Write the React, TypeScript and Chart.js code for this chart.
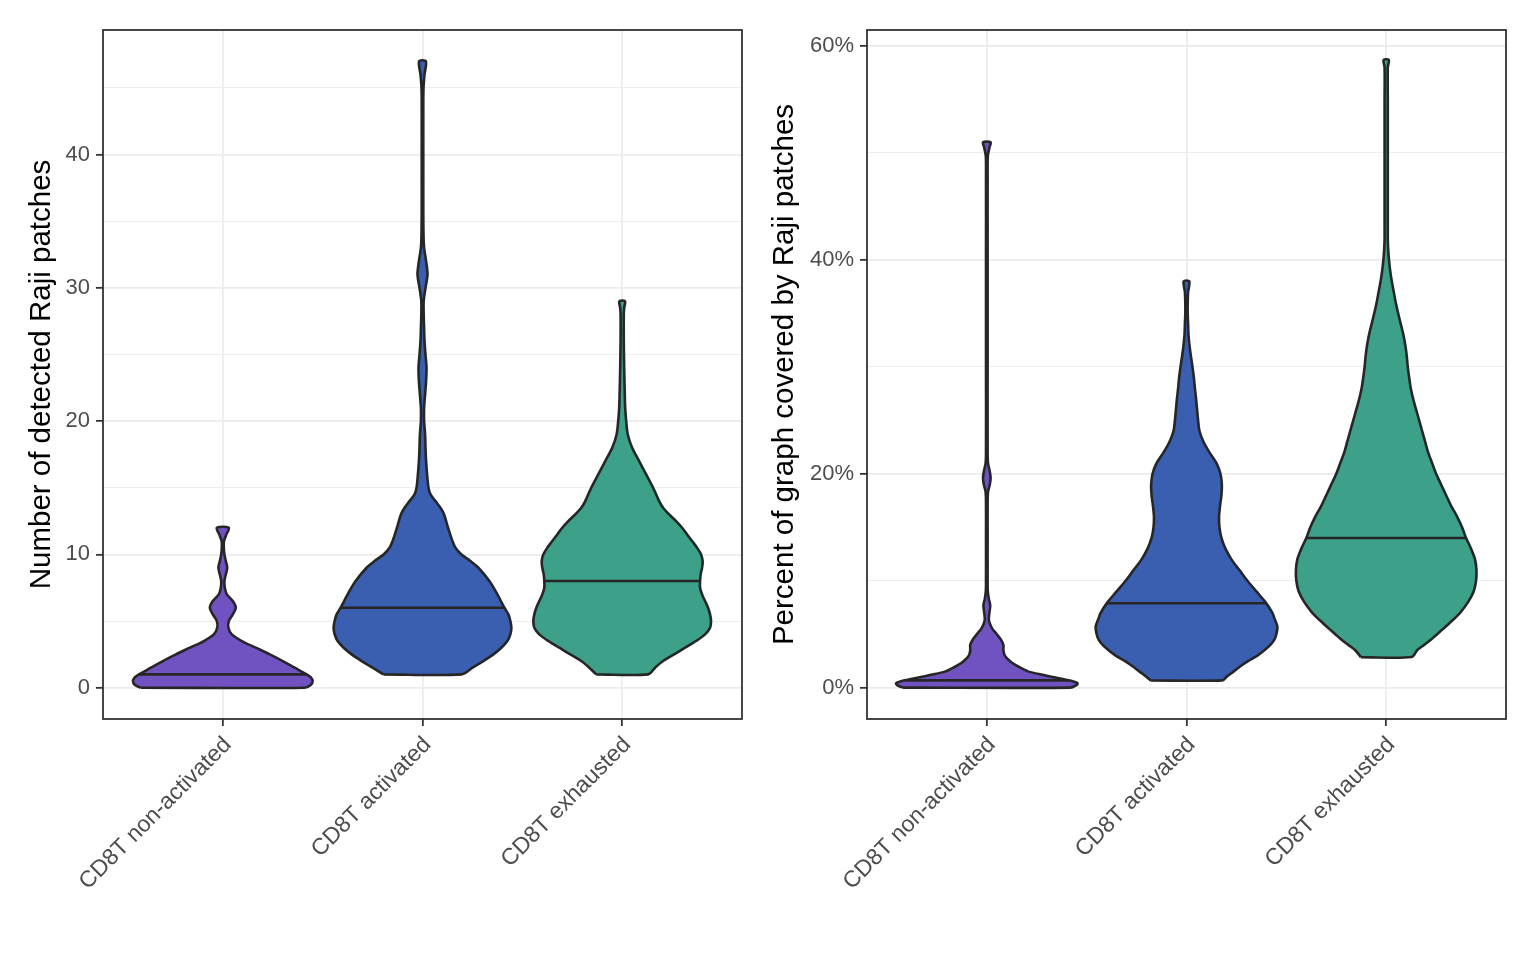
import { useEffect, useRef } from "react"
import { Chart, registerables } from "chart.js"

Chart.register(...registerables)

const CATEGORIES = ["CD8T non-activated", "CD8T activated", "CD8T exhausted"]

// Left panel: number of detected Raji patches (value, violin half width in category units)
const PATCH_NONACT_Y = [0, 0.2, 0.5, 0.8, 1, 1.5, 2, 2.5, 3, 3.5, 4, 4.5, 5, 5.5, 6, 6.5, 7, 7.5, 8, 8.5, 9, 9.5, 10, 10.5, 11, 11.5, 12]
const PATCH_NONACT_W = [0.41, 0.44, 0.45, 0.44, 0.42, 0.36, 0.3, 0.235, 0.165, 0.095, 0.045, 0.028, 0.03, 0.05, 0.065, 0.05, 0.02, 0.01, 0.008, 0.015, 0.022, 0.015, 0.008, 0.005, 0.006, 0.018, 0.03]

const PATCH_ACT_Y = [1, 1.5, 2, 2.5, 3, 3.5, 4, 4.5, 5, 5.5, 6, 7, 8, 9, 9.5, 10, 10.5, 11, 12, 13, 13.5, 14, 14.5, 15, 16, 17, 18, 19, 20, 21, 22, 23, 24, 25, 26, 27, 28, 29, 30, 31, 32, 33, 34, 36, 40, 44, 45, 46, 47]
const PATCH_ACT_W = [0.195, 0.25, 0.305, 0.355, 0.395, 0.425, 0.44, 0.445, 0.44, 0.43, 0.41, 0.375, 0.335, 0.28, 0.24, 0.195, 0.165, 0.15, 0.128, 0.108, 0.09, 0.065, 0.04, 0.03, 0.023, 0.018, 0.015, 0.013, 0.008, 0.008, 0.013, 0.018, 0.02, 0.015, 0.01, 0.008, 0.006, 0.006, 0.015, 0.025, 0.018, 0.008, 0.005, 0.004, 0.004, 0.004, 0.005, 0.01, 0.017]

const PATCH_EXH_Y = [1, 1.5, 2, 2.5, 3, 3.5, 4, 4.5, 5, 5.5, 6, 6.5, 7, 7.5, 8, 8.5, 9, 9.5, 10, 10.5, 11, 11.5, 12, 12.5, 13, 13.5, 14, 15, 16, 17, 18, 19, 20, 21, 22, 24, 26, 28, 28.5, 29]
const PATCH_EXH_W = [0.13, 0.165, 0.205, 0.26, 0.315, 0.37, 0.415, 0.44, 0.445, 0.44, 0.43, 0.415, 0.4, 0.39, 0.39, 0.393, 0.4, 0.403, 0.395, 0.375, 0.35, 0.325, 0.3, 0.27, 0.235, 0.205, 0.185, 0.155, 0.12, 0.085, 0.05, 0.028, 0.02, 0.015, 0.013, 0.01, 0.008, 0.008, 0.01, 0.014]

const PATCH_MEDIANS = [1, 6, 8]
const PATCH_TICKS = [0, 10, 20, 30, 40]

// Right panel: percent of graph covered by Raji patches
const COVER_NONACT_Y = [0, 0.2, 0.4, 0.6, 0.8, 1, 1.2, 1.5, 1.8, 2.1, 2.5, 3, 3.5, 4, 4.5, 5, 5.5, 6, 6.4, 7, 7.7, 8.3, 9, 10, 14, 17, 18.3, 19, 19.6, 20.2, 21, 22, 30, 40, 48, 49.7, 50.5, 51]
const COVER_NONACT_W = [0.42, 0.445, 0.455, 0.43, 0.38, 0.33, 0.28, 0.21, 0.175, 0.145, 0.115, 0.09, 0.083, 0.083, 0.07, 0.05, 0.028, 0.015, 0.01, 0.013, 0.017, 0.01, 0.005, 0.004, 0.004, 0.004, 0.006, 0.015, 0.019, 0.015, 0.006, 0.004, 0.004, 0.004, 0.004, 0.005, 0.013, 0.019]

const COVER_ACT_Y = [0.68, 1, 1.5, 2, 2.5, 3, 3.5, 4, 4.5, 5, 5.7, 6.5, 7, 8, 9, 10, 11, 12, 13, 14, 15, 16, 17, 18, 19, 20, 21, 22, 23, 24, 25, 26, 27, 28, 29, 30, 31, 32, 33, 34, 35, 36, 37, 38]
const COVER_ACT_W = [0.18, 0.2, 0.235, 0.27, 0.31, 0.355, 0.39, 0.42, 0.44, 0.45, 0.455, 0.44, 0.43, 0.395, 0.35, 0.305, 0.265, 0.225, 0.195, 0.175, 0.165, 0.163, 0.168, 0.175, 0.177, 0.17, 0.15, 0.115, 0.085, 0.065, 0.058, 0.053, 0.048, 0.042, 0.037, 0.03, 0.022, 0.015, 0.01, 0.008, 0.006, 0.006, 0.008, 0.014]

const COVER_EXH_Y = [2.86, 3.5, 4, 4.5, 5, 5.5, 6, 7, 8, 9, 10, 11, 12, 13, 14, 15, 16, 17, 18, 19, 20, 21, 22, 23, 24, 25, 26, 27, 28, 29, 30, 31, 32, 33, 34, 35, 36, 37, 38, 39, 40, 41, 42, 43, 46, 50, 55, 58, 58.7]
const COVER_EXH_W = [0.127, 0.155, 0.19, 0.225, 0.255, 0.285, 0.315, 0.37, 0.41, 0.438, 0.45, 0.452, 0.445, 0.425, 0.4, 0.38, 0.355, 0.325, 0.3, 0.275, 0.25, 0.23, 0.21, 0.195, 0.18, 0.165, 0.15, 0.135, 0.123, 0.115, 0.108, 0.103, 0.096, 0.086, 0.073, 0.06, 0.048, 0.038, 0.028, 0.02, 0.014, 0.01, 0.008, 0.008, 0.008, 0.008, 0.008, 0.008, 0.013]

const COVER_MEDIANS = [0.68, 7.9, 14]
const COVER_TICKS = [0, 20, 40, 60]

const FILLS = ["#7152C1", "#3A5EB0", "#3DA18A"]
const OUTLINE = "#262626"
const FONT = "'Liberation Sans', Arial, Helvetica, sans-serif"

type Pt = { x: number; y: number }

function outline(center: number, ys: number[], ws: number[]): Pt[] {
  const left = ys.map((y, i) => ({ x: center - ws[i], y }))
  const right = ys.map((y, i) => ({ x: center + ws[i], y })).reverse()
  return [...left, ...right, left[0]]
}

function widthAt(ys: number[], ws: number[], v: number) {
  for (let i = 1; i < ys.length; i++) {
    if (v <= ys[i]) {
      const t = (v - ys[i - 1]) / (ys[i] - ys[i - 1])
      return ws[i - 1] + t * (ws[i] - ws[i - 1])
    }
  }
  return ws[ws.length - 1]
}

const panelBorder = {
  id: "panelBorder",
  afterDraw(chart: Chart) {
    const { ctx, chartArea: a } = chart
    ctx.save()
    ctx.strokeStyle = "#333333"
    ctx.lineWidth = 1.8
    ctx.strokeRect(a.left, a.top, a.right - a.left, a.bottom - a.top)
    ctx.restore()
  },
}

interface ViolinPanelProps {
  violins: { ys: number[]; ws: number[] }[]
  medians: number[]
  majors: number[]
  yMin: number
  yMax: number
  title: string
  suffix: string
  axisWidth: number
  padRight: number
  titlePad: number
}

function ViolinPanel({ violins, medians, majors, yMin, yMax, title, suffix, axisWidth, padRight, titlePad }: ViolinPanelProps) {
  const chartRef = useRef<HTMLCanvasElement>(null)
  const chartInstance = useRef<Chart | null>(null)

  useEffect(() => {
    if (!chartRef.current) return
    if (chartInstance.current) chartInstance.current.destroy()

    const datasets: any[] = []
    violins.forEach((v, i) => {
      const c = i + 1
      const w = widthAt(v.ys, v.ws, medians[i])
      datasets.push({
        data: outline(c, v.ys, v.ws),
        showLine: true,
        fill: "shape",
        backgroundColor: FILLS[i],
        borderColor: OUTLINE,
        borderWidth: 2.6,
        pointRadius: 0,
        tension: 0.3,
        order: 2,
      })
      // median line, drawn above the violin body
      datasets.push({
        data: [
          { x: c - w, y: medians[i] },
          { x: c + w, y: medians[i] },
        ],
        showLine: true,
        fill: false,
        borderColor: OUTLINE,
        borderWidth: 2.6,
        pointRadius: 0,
        order: 1,
      })
    })

    const step = majors[1] - majors[0]
    const allTicks: number[] = []
    for (let v = majors[0]; v <= yMax; v += step / 2) allTicks.push(v)
    const isMajor = (v: number) => majors.includes(v)

    chartInstance.current = new Chart(chartRef.current, {
      type: "scatter",
      data: { datasets },
      plugins: [panelBorder],
      options: {
        animation: false,
        responsive: true,
        maintainAspectRatio: false,
        layout: { padding: { top: 30, right: padRight, bottom: 0, left: 0 } },
        plugins: { legend: { display: false }, tooltip: { enabled: false } },
        scales: {
          x: {
            type: "linear",
            min: 0.4,
            max: 3.6,
            afterBuildTicks: (s: any) => {
              s.ticks = CATEGORIES.map((_, i) => ({ value: i + 1 }))
            },
            afterFit: (s: any) => {
              s.height = 241
            },
            ticks: {
              autoSkip: false,
              minRotation: 45,
              maxRotation: 45,
              padding: 3,
              labelOffset: 5,
              color: "#4D4D4D",
              font: { family: FONT, size: 23, lineHeight: 1.5 },
              callback: (v: any) => CATEGORIES[Number(v) - 1],
            },
            grid: { color: "#EBEBEB", lineWidth: 1.7, tickLength: 7, tickColor: "#333333", tickWidth: 1.8 },
            border: { display: false },
          },
          y: {
            type: "linear",
            min: yMin,
            max: yMax,
            afterBuildTicks: (s: any) => {
              s.ticks = allTicks.map((v) => ({ value: v }))
            },
            afterFit: (s: any) => {
              s.width = axisWidth
            },
            ticks: {
              padding: 6,
              color: "#4D4D4D",
              font: { family: FONT, size: 22 },
              callback: (v: any) => (isMajor(Number(v)) ? `${v}${suffix}` : ""),
            },
            grid: {
              color: "#EBEBEB",
              lineWidth: (ctx: any) => (isMajor(ctx.tick.value) ? 1.7 : 0.9),
              tickLength: 7,
              tickColor: (ctx: any) => (isMajor(ctx.tick.value) ? "#333333" : "rgba(0,0,0,0)"),
              tickWidth: 1.8,
            },
            border: { display: false },
            title: {
              display: true,
              text: title,
              color: "#000000",
              font: { family: FONT, size: 29.5, lineHeight: 1 },
              padding: { top: titlePad, bottom: 0 },
            },
          },
        },
      } as any,
    })

    return () => {
      if (chartInstance.current) {
        chartInstance.current.destroy()
        chartInstance.current = null
      }
    }
  }, [violins, medians, majors, yMin, yMax, title, suffix, axisWidth, padRight, titlePad])

  return <canvas ref={chartRef} />
}

const PATCH_VIOLINS = [
  { ys: PATCH_NONACT_Y, ws: PATCH_NONACT_W },
  { ys: PATCH_ACT_Y, ws: PATCH_ACT_W },
  { ys: PATCH_EXH_Y, ws: PATCH_EXH_W },
]

const COVER_VIOLINS = [
  { ys: COVER_NONACT_Y, ws: COVER_NONACT_W },
  { ys: COVER_ACT_Y, ws: COVER_ACT_W },
  { ys: COVER_EXH_Y, ws: COVER_EXH_W },
]

export default function App() {
  return (
    <div style={{ position: "absolute", left: 0, top: 0, width: 1536, height: 960, background: "#ffffff" }}>
      <div style={{ position: "absolute", left: 0, top: 0, width: 768, height: 960 }}>
        <ViolinPanel
          violins={PATCH_VIOLINS}
          medians={PATCH_MEDIANS}
          majors={PATCH_TICKS}
          yMin={-2.35}
          yMax={49.35}
          title="Number of detected Raji patches"
          suffix=""
          axisWidth={103}
          padRight={26}
          titlePad={27}
        />
      </div>
      <div style={{ position: "absolute", left: 768, top: 0, width: 768, height: 960 }}>
        <ViolinPanel
          violins={COVER_VIOLINS}
          medians={COVER_MEDIANS}
          majors={COVER_TICKS}
          yMin={-2.93}
          yMax={61.5}
          title="Percent of graph covered by Raji patches"
          suffix="%"
          axisWidth={99}
          padRight={30}
          titlePad={2}
        />
      </div>
    </div>
  )
}
